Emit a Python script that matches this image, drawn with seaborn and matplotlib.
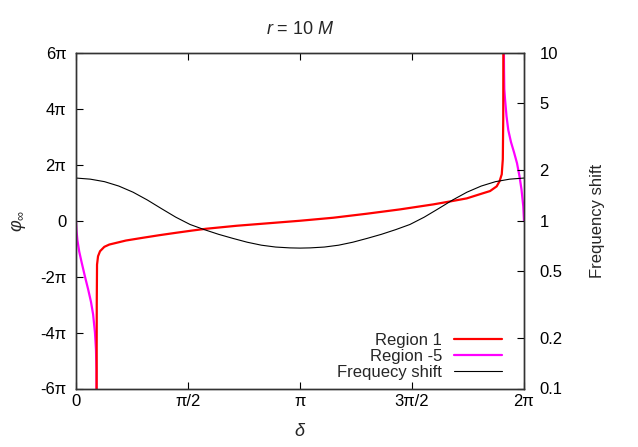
import numpy as np
import pandas as pd
import seaborn as sns
import matplotlib
matplotlib.use("Agg")
import matplotlib.pyplot as plt
from matplotlib.lines import Line2D

sns.set_theme(style="white")
plt.rcParams['font.family'] = ['Liberation Sans', 'DejaVu Sans']
plt.rcParams['mathtext.fontset'] = 'custom'
plt.rcParams['mathtext.rm'] = 'Liberation Sans'
plt.rcParams['mathtext.it'] = 'Liberation Sans:italic'

PI = np.pi

# Region 1: delta (rad), phi_inf in units of pi
reg1_delta = [0.288, 0.291, 0.295, 0.309, 0.337, 0.397, 0.467, 0.701, 0.935, 1.168,
              1.402, 1.637, 1.823, 2.254, 2.721, 3.142, 3.609, 4.077, 4.544, 5.011,
              5.245, 5.480, 5.712, 5.807, 5.900, 5.940, 5.971, 5.986, 5.992, 5.995]
reg1_phi = [-8.0, -3.0, -1.57, -1.27, -1.09, -0.933, -0.851, -0.707, -0.610, -0.517,
            -0.431, -0.348, -0.287, -0.179, -0.085, 0.0, 0.108, 0.251, 0.406, 0.585,
            0.69, 0.80, 0.987, 1.062, 1.23, 1.41, 1.66, 2.2, 3.63, 8.0]

# Region -5 (two branches)
regm5a_delta = [0.0, 0.007, 0.02, 0.045, 0.08, 0.126, 0.17, 0.21, 0.24, 0.266, 0.280,
                0.287, 0.290]
regm5a_phi = [0.0, -0.35, -0.7, -1.1, -1.5, -2.0, -2.45, -2.9, -3.35, -4.0, -4.6,
              -5.3, -8.0]
regm5b_delta = [5.996, 6.003, 6.007, 6.017, 6.038, 6.063, 6.101, 6.143, 6.185, 6.220,
                6.248, 6.273, 6.283]
regm5b_phi = [8.0, 5.43, 4.71, 4.35, 3.74, 3.24, 2.81, 2.45, 2.06, 1.59, 1.12, 0.52, 0.0]

# Frequency shift (right log axis)
fs_delta = [0.0, 0.2, 0.4, 0.6, 0.8, 1.0, 1.2, 1.4, 1.6, 1.8, 2.0, 2.2, 2.4, 2.6, 2.8,
            3.0, 3.142, 3.283, 3.483, 3.683, 3.883, 4.083, 4.283, 4.483, 4.683, 4.883,
            5.083, 5.283, 5.483, 5.683, 5.883, 6.083, 6.283]
fs_val = [1.797, 1.77, 1.71, 1.61, 1.48, 1.33, 1.18, 1.05, 0.95, 0.885, 0.83, 0.785,
          0.745, 0.715, 0.697, 0.689, 0.687, 0.689, 0.697, 0.715, 0.745, 0.785, 0.83,
          0.885, 0.95, 1.05, 1.18, 1.33, 1.48, 1.61, 1.71, 1.77, 1.797]

xtick_labels = ['0', 'π/2', 'π', '3π/2', '2π']
ytick_labels = ['-6π', '-4π', '-2π', '0', '2π', '4π', '6π']
y2_ticks = [0.1, 0.2, 0.5, 1, 2, 5, 10]
y2_labels = ['0.1', '0.2', '0.5', '1', '2', '5', '10']

df1 = pd.DataFrame({'d': reg1_delta, 'p': np.array(reg1_phi) * PI})
dfa = pd.DataFrame({'d': regm5a_delta, 'p': np.array(regm5a_phi) * PI})
dfb = pd.DataFrame({'d': regm5b_delta, 'p': np.array(regm5b_phi) * PI})
dff = pd.DataFrame({'d': fs_delta, 'f': fs_val})

fig = plt.figure(figsize=(6.38, 4.47), dpi=100)
ax = fig.add_axes([76 / 638, 1 - 388.5 / 447, 448 / 638, (388.5 - 53) / 447])
ax2 = ax.twinx()

LW = 1.6
sns.lineplot(data=dfa, x='d', y='p', ax=ax, color='#ff00ff', lw=LW, sort=False, estimator=None)
sns.lineplot(data=dfb, x='d', y='p', ax=ax, color='#ff00ff', lw=LW, sort=False, estimator=None)
sns.lineplot(data=df1, x='d', y='p', ax=ax, color='#ff0000', lw=LW, sort=False, estimator=None)
sns.lineplot(data=dff, x='d', y='f', ax=ax2, color='black', lw=0.8, sort=False, estimator=None)

ax.set_xlim(0, 2 * PI)
ax.set_ylim(-6 * PI, 6 * PI)
ax2.set_yscale('log')
ax2.set_ylim(0.1, 10)

fs = 12
ax.set_xticks(np.arange(5) * PI / 2)
ax.set_xticklabels(xtick_labels, fontsize=fs)
ax.set_yticks(np.arange(-6, 7, 2) * PI)
ax.set_yticklabels(ytick_labels, fontsize=fs)
ax2.set_yticks(y2_ticks)
ax2.set_yticklabels(y2_labels, fontsize=fs)
ax2.yaxis.set_minor_locator(matplotlib.ticker.NullLocator())

ax.tick_params(axis='x', direction='in', length=5, width=0.8, top=True, bottom=True,
               pad=4, colors='black')
ax.tick_params(axis='y', direction='in', length=5, width=0.8, left=True, right=False,
               pad=7, colors='black')
ax2.tick_params(axis='y', direction='in', length=5, width=0.8, right=True, left=False,
                pad=11, colors='black')

for a in (ax, ax2):
    for s in a.spines.values():
        s.set_color('#333333')
        s.set_linewidth(1.0)

ax.set_xlabel(r'$\delta$', fontsize=13, labelpad=10)
ax.set_ylabel(r'$\varphi_\infty$', fontsize=13, labelpad=9)
ax2.set_ylabel('Frequency shift', fontsize=fs, labelpad=20)
ax.set_title(r'$r$ = 10 $M$', fontsize=13, pad=14)

handles = [Line2D([], [], color='#ff0000', lw=LW),
           Line2D([], [], color='#ff00ff', lw=LW),
           Line2D([], [], color='black', lw=0.8)]
leg = ax.legend(handles, ['Region 1', 'Region -5', 'Frequecy shift'], loc='lower right',
                frameon=False, markerfirst=False, fontsize=fs, handlelength=2.9,
                handletextpad=0.7, labelspacing=0.08, borderaxespad=0.1,
                bbox_to_anchor=(0.97, 0.0))
for t in leg.get_texts():
    t.set_ha('right')

fig.savefig('out.png', dpi=100, facecolor='white')
